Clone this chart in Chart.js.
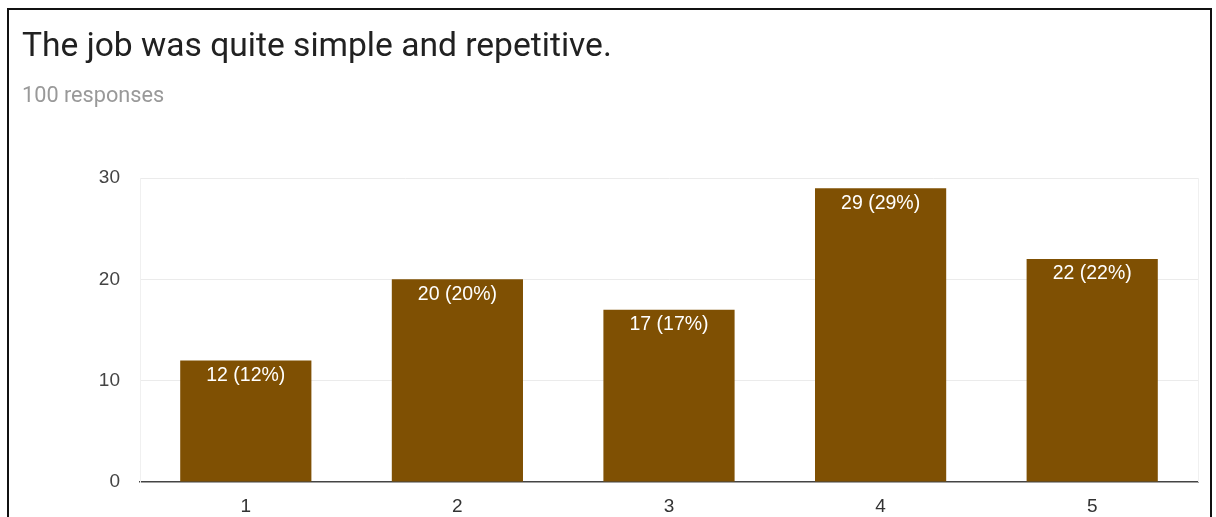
<!DOCTYPE html>
<html>
<head>
<meta charset="utf-8">
<script src="https://cdn.jsdelivr.net/npm/chart.js@4"></script>
<style>
  html, body { margin: 0; padding: 0; background: #fff; }
  #wrap { position: relative; width: 1216px; height: 517px; overflow: hidden; }
  #frame { position: absolute; left: 7px; top: 8px; width: 1201px; height: 520px;
           border: 2px solid #111; border-bottom: none; }
  #title { position: absolute; left: 22px; top: 25px; font-family: Roboto, Arial, sans-serif;
           font-size: 33.6px; color: #212121; white-space: nowrap; }
  #sub { position: absolute; left: 22px; top: 82px; font-family: Roboto, Arial, sans-serif;
         font-size: 21.7px; color: #999; white-space: nowrap; }
  #c { position: absolute; left: 0; top: 0; }
</style>
</head>
<body>
<div id="wrap">
  <div id="frame"></div>
  <canvas id="c" width="1216" height="517"></canvas>
  <div id="title">The job was quite simple and repetitive.</div>
  <div id="sub">100 responses</div>
</div>
<script>
  var categories = ["1", "2", "3", "4", "5"];
  var counts = [12, 20, 17, 29, 22];
  var totalResponses = 100;
  var yTicks = [0, 10, 20, 30];

  // labels inside the top of each bar, e.g. "12 (12%)"
  var barLabels = {
    id: 'barLabels',
    afterDatasetsDraw: function(chart) {
      var ctx = chart.ctx;
      var meta = chart.getDatasetMeta(0);
      ctx.save();
      ctx.fillStyle = '#ffffff';
      ctx.font = '19.5px Arial, "Liberation Sans", sans-serif';
      ctx.textAlign = 'center';
      ctx.textBaseline = 'middle';
      meta.data.forEach(function(bar, i) {
        var v = counts[i];
        var pct = Math.round(v / totalResponses * 100);
        ctx.fillText(v + ' (' + pct + '%)', bar.x, bar.y + 15);
      });
      // right edge of the plot frame
      var a = chart.chartArea;
      ctx.strokeStyle = '#f0f0f0';
      ctx.lineWidth = 1;
      ctx.beginPath();
      ctx.moveTo(Math.round(a.right) + 0.5, a.top);
      ctx.lineTo(Math.round(a.right) + 0.5, a.bottom);
      ctx.stroke();
      ctx.restore();
    }
  };

  var ctx = document.getElementById('c').getContext('2d');
  var chart = new Chart(ctx, {
    type: 'bar',
    data: {
      labels: categories,
      datasets: [{
        data: counts,
        backgroundColor: '#7f5003',
        borderWidth: 0,
        categoryPercentage: 1,
        barPercentage: 0.62
      }]
    },
    options: {
      responsive: false,
      animation: false,
      layout: { padding: { left: 0, right: 18, top: 178, bottom: 0 } },
      plugins: { legend: { display: false }, tooltip: { enabled: false } },
      scales: {
        x: {
          grid: { display: false, drawTicks: false },
          border: { display: true, color: '#444', width: 1.5 },
          ticks: {
            color: '#333',
            font: { family: 'Arial, "Liberation Sans", sans-serif', size: 19 },
            padding: 13
          },
          afterFit: function(s) { s.height = 35; }
        },
        y: {
          min: 0,
          max: 30,
          afterBuildTicks: function(s) { s.ticks = yTicks.map(function(v) { return { value: v }; }); },
          grid: {
            drawTicks: false,
            color: function(c) { return c.tick && c.tick.value === 0 ? 'rgba(0,0,0,0)' : '#ebebeb'; }
          },
          border: { display: true, color: '#f0f0f0' },
          ticks: {
            color: '#444',
            font: { family: 'Arial, "Liberation Sans", sans-serif', size: 19 },
            padding: 20
          },
          afterFit: function(s) { s.width = 140; }
        }
      }
    },
    plugins: [barLabels]
  });
</script>
</body>
</html>
